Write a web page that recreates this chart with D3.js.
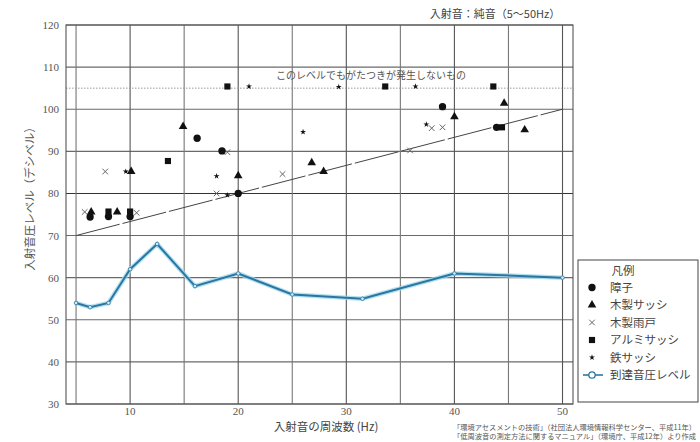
<!DOCTYPE html>
<html><head><meta charset="utf-8">
<script src="https://cdn.jsdelivr.net/npm/d3@7"></script>
<style>
html,body{margin:0;padding:0;background:#fff;}
svg{display:block;}
</style>
</head><body>
<svg id="chart" width="700" height="442"></svg>
<script>
// ---- data ----
const freqBands = [5, 6.3, 8, 10, 12.5, 16, 20, 25, 31.5, 40, 50];
const arrivalLevel = [54, 53, 54, 62, 68, 58, 61, 56, 55, 61, 60];

const shojiF = [6.3, 8, 10, 16.2, 18.5, 20, 38.9, 43.9];
const shojiV = [74.4, 74.5, 74.5, 93.1, 90.1, 80, 100.6, 95.7];

const mokuSashF = [6.4, 8.8, 10.1, 14.9, 20, 26.8, 27.9, 40, 44.6, 46.5];
const mokuSashV = [75.6, 75.6, 85.2, 95.9, 84.2, 87.3, 85.2, 98.2, 101.4, 95.1];

const mokuAmadoF = [5.8, 7.7, 10.6, 18.0, 19.0, 24.1, 35.9, 37.9, 38.9];
const mokuAmadoV = [75.6, 85.2, 75.4, 80, 89.8, 84.6, 90.2, 95.5, 95.7];

const alumiF = [8, 10, 13.5, 19, 33.6, 43.6, 44.4];
const alumiV = [75.7, 75.7, 87.7, 105.4, 105.4, 105.4, 95.7];

const tetsuF = [9.6, 18.0, 19.0, 21.0, 26.0, 29.3, 36.4, 37.4];
const tetsuV = [85.2, 84.1, 79.6, 105.4, 94.6, 105.3, 105.4, 96.4];

const thresholdF = [5, 50];
const thresholdV = [70, 100];
const noRattleLevel = 105;

const yTicks = [30, 40, 50, 60, 70, 80, 90, 100, 110, 120];
const xGrid = [5, 10, 15, 20, 25, 30, 35, 40, 45, 50];
const xTickLabels = [10, 20, 30, 40, 50];

const legendNames = ["障子", "木製サッシ", "木製雨戸", "アルミサッシ", "鉄サッシ", "到達音圧レベル"];

const titleText = "入射音：純音（5～50Hz）";
const yTitle = "入射音圧レベル（デシベル）";
const xTitle = "入射音の周波数 (Hz)";
const noteText = "このレベルでもがたつきが発生しないもの";
const sourceLines = ["「環境アセスメントの技術」（社団法人環境情報科学センター、平成11年）",
                     "「低周波音の測定方法に関するマニュアル」（環境庁、平成12年）より作成"];

// ---- layout ----
const L = 66, R = 573, T = 25, B = 404;
const x = d3.scaleLinear().domain([4.07, 50.97]).range([L, R]);
const y = d3.scaleLinear().domain([30, 120]).range([B, T]);

const JP = "'Noto Sans CJK JP', 'Noto Sans', sans-serif";
const NUM = "'Liberation Serif', 'DejaVu Serif', serif";
const svg = d3.select("#chart");

// grid
const g = svg.append("g");
g.selectAll("line.h").data(yTicks).join("line")
  .attr("x1", L).attr("x2", R).attr("y1", d => y(d)).attr("y2", d => y(d))
  .attr("stroke", d => d === 80 ? "#333" : "#6a6a6a").attr("stroke-width", 1.1);
g.selectAll("line.v").data(xGrid).join("line")
  .attr("x1", d => x(d)).attr("x2", d => x(d)).attr("y1", T).attr("y2", B)
  .attr("stroke", d => d % 10 === 0 ? "#555" : "#777").attr("stroke-width", 1.1);
// dotted 105 line
g.append("line").attr("x1", L).attr("x2", R).attr("y1", y(noRattleLevel)).attr("y2", y(noRattleLevel))
  .attr("stroke", "#999").attr("stroke-width", 1).attr("stroke-dasharray", "1.5,1.5");
// frame
g.append("rect").attr("x", L).attr("y", T).attr("width", R - L).attr("height", B - T)
  .attr("fill", "none").attr("stroke", "#555").attr("stroke-width", 1.1);

// y ticks
svg.append("g").selectAll("text").data(yTicks).join("text")
  .attr("x", 59).attr("y", d => y(d) + 4).attr("text-anchor", "end")
  .attr("font-family", NUM).attr("font-size", 11).attr("fill", "#555").text(d => d);
// x ticks
svg.append("g").selectAll("text").data(xTickLabels).join("text")
  .attr("x", d => x(d)).attr("y", 415).attr("text-anchor", "middle")
  .attr("font-family", NUM).attr("font-size", 11).attr("fill", "#555").text(d => d);

// titles
svg.append("text").attr("x", 495).attr("y", 18).attr("text-anchor", "middle")
  .attr("font-family", JP).attr("font-size", 11).attr("fill", "#444").text(titleText);
svg.append("text").attr("transform", "translate(34,196) rotate(-90)").attr("text-anchor", "middle")
  .attr("font-family", JP).attr("font-size", 11.5).attr("fill", "#555").text(yTitle);
svg.append("text").attr("x", 326).attr("y", 431).attr("text-anchor", "middle")
  .attr("font-family", JP).attr("font-size", 11.5).attr("fill", "#444").text(xTitle);
svg.append("text").attr("x", 371).attr("y", 79).attr("text-anchor", "middle")
  .attr("font-family", JP).attr("font-size", 10).attr("fill", "#555").text(noteText);
svg.append("g").selectAll("text").data(sourceLines).join("text")
  .attr("x", 453).attr("y", (d, i) => 429.5 + i * 9)
  .attr("font-family", JP).attr("font-size", 7).attr("fill", "#555")
  .attr("textLength", 243).attr("lengthAdjust", "spacingAndGlyphs").text(d => d);

// threshold line
svg.append("path")
  .datum(thresholdF.map((f, i) => [f, thresholdV[i]]))
  .attr("d", d3.line().x(d => x(d[0])).y(d => y(d[1])))
  .attr("fill", "none").attr("stroke", "#444").attr("stroke-width", 1)
  .attr("stroke-dasharray", "45,3");

// arrival level line
const arr = freqBands.map((f, i) => [f, arrivalLevel[i]]);
const lineGen = d3.line().x(d => x(d[0])).y(d => y(d[1]));
svg.append("path").datum(arr).attr("d", lineGen).attr("fill", "none")
  .attr("stroke", "#9fd8ee").attr("stroke-width", 4.5).attr("stroke-opacity", 0.8);
svg.append("path").datum(arr).attr("d", lineGen).attr("fill", "none")
  .attr("stroke", "#2a76a0").attr("stroke-width", 2);
svg.append("g").selectAll("circle").data(arr).join("circle")
  .attr("cx", d => x(d[0])).attr("cy", d => y(d[1])).attr("r", 1.8)
  .attr("fill", "#cfeaf5").attr("stroke", "#2a76a0").attr("stroke-width", 0.8);

// markers
const symPath = {
  circle: d3.symbol().type(d3.symbolCircle).size(42)(),
  triangle: d3.symbol().type(d3.symbolTriangle).size(32)(),
  square: d3.symbol().type(d3.symbolSquare).size(38)(),
  star: d3.symbol().type(d3.symbolStar).size(11)(),
  x: "M-2.8,-2.8L2.8,2.8M-2.8,2.8L2.8,-2.8"
};
function drawSeries(fs, vs, kind) {
  const pts = fs.map((f, i) => [f, vs[i]]);
  const sel = svg.append("g").selectAll("path").data(pts).join("path")
    .attr("transform", d => `translate(${x(d[0])},${y(d[1])})`)
    .attr("d", symPath[kind]);
  if (kind === "x") sel.attr("fill", "none").attr("stroke", "#666").attr("stroke-width", 1);
  else sel.attr("fill", "#111");
}
drawSeries(mokuAmadoF, mokuAmadoV, "x");
drawSeries(tetsuF, tetsuV, "star");
drawSeries(shojiF, shojiV, "circle");
drawSeries(mokuSashF, mokuSashV, "triangle");
drawSeries(alumiF, alumiV, "square");

// legend
const lg = svg.append("g");
lg.append("rect").attr("x", 578).attr("y", 260).attr("width", 120).attr("height", 142)
  .attr("fill", "#fff").attr("stroke", "#444").attr("stroke-width", 1);
lg.append("text").attr("x", 623).attr("y", 275).attr("text-anchor", "middle")
  .attr("font-family", JP).attr("font-size", 11.5).attr("fill", "#444").text("凡例");
const kinds = ["circle", "triangle", "x", "square", "star", "line"];
kinds.forEach((k, i) => {
  const cy = 287.5 + i * 17.5;
  if (k === "line") {
    lg.append("line").attr("x1", 583).attr("x2", 603).attr("y1", cy).attr("y2", cy)
      .attr("stroke", "#2a76a0").attr("stroke-width", 1.6);
    lg.append("circle").attr("cx", 592).attr("cy", cy).attr("r", 3.2)
      .attr("fill", "#fff").attr("stroke", "#2a76a0").attr("stroke-width", 1.3);
  } else {
    const p = lg.append("path").attr("transform", `translate(592,${cy})`).attr("d", symPath[k]);
    if (k === "x") p.attr("fill", "none").attr("stroke", "#666").attr("stroke-width", 1);
    else p.attr("fill", "#111");
  }
  lg.append("text").attr("x", 610).attr("y", cy + 4.2)
    .attr("font-family", JP).attr("font-size", 11.5).attr("fill", "#444").text(legendNames[i]);
});
</script>
</body></html>
